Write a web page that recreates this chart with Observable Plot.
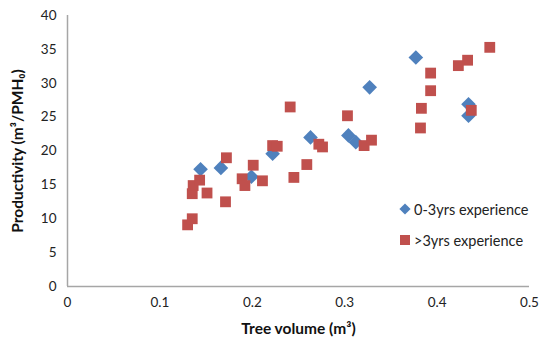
<!DOCTYPE html>
<html><head><meta charset="utf-8">
<script src="https://cdn.jsdelivr.net/npm/d3@7"></script>
<script src="https://cdn.jsdelivr.net/npm/@observablehq/plot@0.6"></script>
<style>
body{margin:0;background:#fff;}
#chart{position:relative;width:540px;height:343px;font-family:Lato,"Open Sans",sans-serif;}
#chart svg g[aria-label="x-axis label"] text,
#chart svg g[aria-label="y-axis label"] text{font-weight:bold;font-size:15.5px;fill:#111;}
#legend{position:absolute;left:398px;top:200px;font-size:14.5px;color:#222;}
#legend .row{display:flex;align-items:center;height:18px;margin-bottom:13px;white-space:nowrap;}
#legend svg{margin-right:2px;}
</style></head><body>
<div id="chart"></div>
<script>
// 0-3 yrs experience (blue diamonds)
const youngVolume = [0.144, 0.166, 0.199, 0.222, 0.263, 0.304, 0.312, 0.327, 0.377, 0.434, 0.434];
const youngProd   = [17.3, 17.5, 16.2, 19.6, 22.0, 22.3, 21.3, 29.4, 33.8, 26.9, 25.2];
// >3 yrs experience (red squares)
const oldVolume = [0.130, 0.135, 0.135, 0.136, 0.143, 0.151, 0.171, 0.172, 0.189, 0.192,
                   0.201, 0.211, 0.222, 0.227, 0.241, 0.245, 0.259, 0.272, 0.276, 0.303,
                   0.321, 0.329, 0.382, 0.383, 0.393, 0.393, 0.423, 0.433, 0.437, 0.457];
const oldProd   = [9.1, 10.0, 13.7, 14.9, 15.7, 13.8, 12.5, 19.0, 15.9, 14.9,
                   17.9, 15.6, 20.8, 20.7, 26.5, 16.1, 18.0, 21.0, 20.6, 25.2,
                   20.8, 21.6, 23.4, 26.3, 28.9, 31.5, 32.6, 33.4, 26.0, 35.3];
const xTicks = [0, 0.1, 0.2, 0.3, 0.4, 0.5];
const yTicks = [0, 5, 10, 15, 20, 25, 30, 35, 40];
const seriesNames = ["0-3yrs experience", ">3yrs experience"];
const seriesColors = ["#4F81BD", "#C0504D"];
const xTitle = "Tree volume (m³)";
const yTitle = "Productivity (m³/PMH₀)";

const young = youngVolume.map((v, i) => ({volume: v, prod: youngProd[i]}));
const old = oldVolume.map((v, i) => ({volume: v, prod: oldProd[i]}));

const plot = Plot.plot({
  width: 540, height: 343,
  marginLeft: 67, marginRight: 11, marginTop: 15, marginBottom: 57,
  style: {fontFamily: "Lato, 'Open Sans', sans-serif", fontSize: "13.5px", color: "#222", background: "#fff", overflow: "visible"},
  x: {domain: [0, 0.5]},
  y: {domain: [0, 40]},
  marks: [
    Plot.axisX({ticks: xTicks, tickSize: 0, tickPadding: 11, tickFormat: d => String(d),
      label: xTitle, labelAnchor: "center", labelOffset: 47, labelArrow: "none"}),
    Plot.axisY({ticks: yTicks, tickSize: 0, tickPadding: 11, tickFormat: d => String(d),
      label: yTitle, labelAnchor: "center", labelOffset: 56, labelArrow: "none"}),
    Plot.ruleX([0], {stroke: "#a6a6a6", strokeWidth: 1.5}),
    Plot.ruleY([0], {stroke: "#a6a6a6", strokeWidth: 1.5}),
    Plot.dot(young, {x: "volume", y: "prod", symbol: "diamond2", r: 6.6, fill: seriesColors[0], stroke: "none"}),
    Plot.dot(old, {x: "volume", y: "prod", symbol: "square", r: 6.1, fill: seriesColors[1], stroke: "none"})
  ]
});
const chart = document.getElementById("chart");
chart.appendChild(plot);

// legend
const legend = document.createElement("div");
legend.id = "legend";
const shapes = ["diamond2", "square"];
seriesNames.forEach((name, i) => {
  const row = document.createElement("div");
  row.className = "row";
  const sym = d3.symbol(shapes[i] === "diamond2" ? d3.symbolDiamond2 : d3.symbolSquare, shapes[i] === "diamond2" ? 80 : 100)();
  row.innerHTML = `<svg width="14" height="14" viewBox="-7 -7 14 14"><path d="${sym}" fill="${seriesColors[i]}"></path></svg><span>${name.replace(/>/g, "&gt;")}</span>`;
  legend.appendChild(row);
});
chart.appendChild(legend);
</script>
</body></html>
